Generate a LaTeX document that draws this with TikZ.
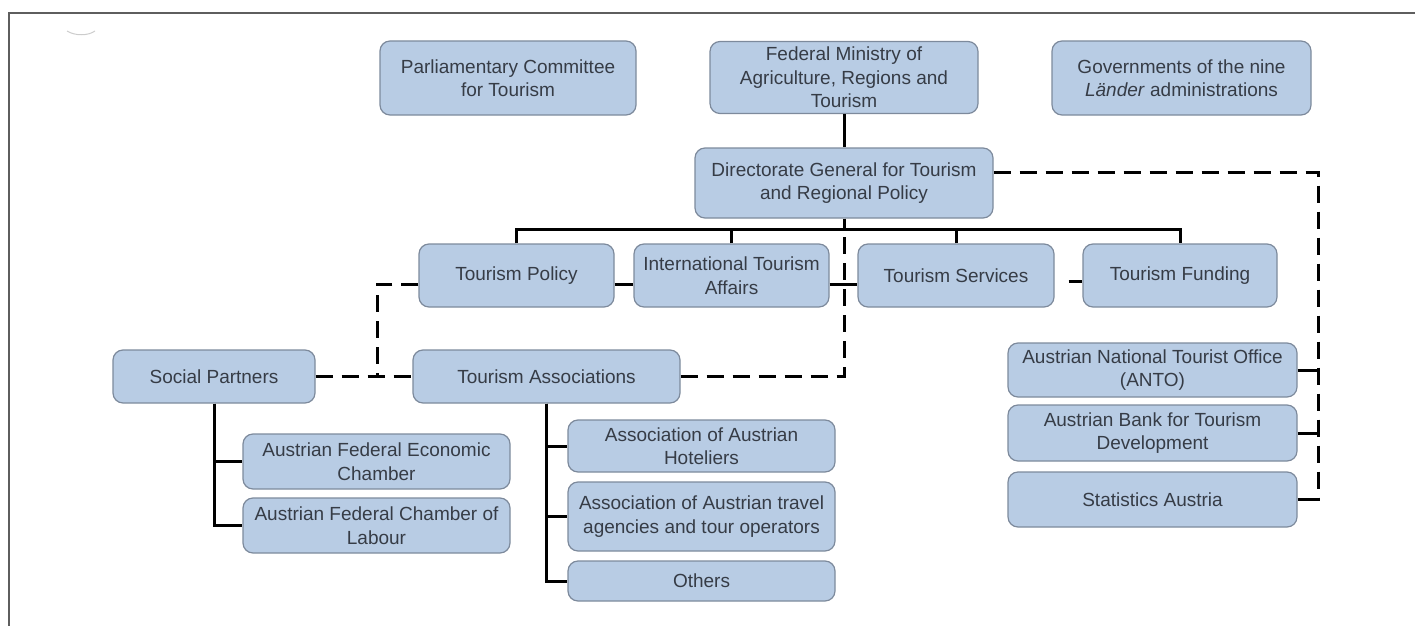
\documentclass[tikz,border=0pt]{standalone}
\usepackage{fontspec}
\setmainfont{Liberation Sans}
\definecolor{boxfill}{HTML}{B8CCE4}
\definecolor{boxline}{HTML}{7D8A9C}
\definecolor{boxtext}{HTML}{363C46}
\definecolor{framegray}{HTML}{5E5E5E}
\begin{document}
\begin{tikzpicture}[x=1pt, y=-1pt,
    box/.style={draw=boxline, line width=1.2pt, fill=boxfill, rounded corners=10pt,
        align=center, inner sep=0pt, text=boxtext,
        font=\fontsize{19}{23.5}\selectfont},
    link/.style={line width=3pt, black},
    dlink/.style={line width=3pt, black, dash pattern=on 17pt off 9pt}]
    \useasboundingbox (0,0) rectangle (1415,626);

    % Frame
    \draw[framegray, line width=2pt] (1415,13) -- (9,13) -- (9,626);
    \draw[gray!40, line width=1pt] (67,31) .. controls (75,36) and (88,36) .. (95,31);

    % Top row
    \node[box, minimum width=256, minimum height=74] (parl) at (508,78)
        {Parliamentary Committee\\for Tourism};
    \node[box, minimum width=268, minimum height=72] (ministry) at (844,77.5)
        {Federal Ministry of\\Agriculture, Regions and\\Tourism};
    \node[box, minimum width=259, minimum height=74] (lander) at (1181.5,78)
        {Governments of the nine\\\textit{Länder} administrations};

    % Directorate and departments
    \node[box, minimum width=298, minimum height=70] (directorate) at (844,183)
        {Directorate General for Tourism\\and Regional Policy};
    \node[box, minimum width=195, minimum height=63] (policy) at (516.5,275.5) {Tourism Policy};
    \node[box, minimum width=195, minimum height=63] (intl) at (731.5,275.5)
        {International Tourism\\Affairs};
    \node[box, minimum width=196, minimum height=63] (services) at (956,275.5) {Tourism Services};
    \node[box, minimum width=194, minimum height=63] (funding) at (1180,275.5) {Tourism Funding};

    % Partners and associations
    \node[box, minimum width=202, minimum height=53] (social) at (214,376.5) {Social Partners};
    \node[box, minimum width=267, minimum height=53] (assoc) at (546.5,376.5) {Tourism Associations};
    \node[box, minimum width=267, minimum height=55] (econ) at (376.5,461.5)
        {Austrian Federal Economic\\Chamber};
    \node[box, minimum width=267, minimum height=55] (labour) at (376.5,525.5)
        {Austrian Federal Chamber of\\Labour};
    \node[box, minimum width=267, minimum height=52] (hotel) at (701.5,446)
        {Association of Austrian\\Hoteliers};
    \node[box, minimum width=267, minimum height=69] (travel) at (701.5,516.5)
        {Association of Austrian travel\\agencies and tour operators};
    \node[box, minimum width=267, minimum height=40] (others) at (701.5,581) {Others};

    % Agencies
    \node[box, minimum width=289, minimum height=54] (anto) at (1152.5,370)
        {Austrian National Tourist Office\\(ANTO)};
    \node[box, minimum width=289, minimum height=56] (bank) at (1152.5,433)
        {Austrian Bank for Tourism\\Development};
    \node[box, minimum width=289, minimum height=55] (stats) at (1152.5,499.5) {Statistics Austria};

    % Hierarchy lines
    \draw[link] (ministry.south) -- (directorate.north);
    \draw[link] (directorate.south) -- ++(0,11) coordinate (bus);
    \draw[link] (policy.north) |- (bus) -| (funding.north);
    \draw[link] (intl.north) |- (bus);
    \draw[link] (services.north) |- (bus);
    \draw[link] ([yshift=-9pt]policy.east) -- ([yshift=-9pt]intl.west);
    \draw[link] ([yshift=-9pt]intl.east) -- ([yshift=-9pt]services.west);
    \draw[link, shorten <=14pt] ([yshift=-6pt]services.east) -- ([yshift=-6pt]funding.west);
    \draw[link] (social.south) |- (econ.west);
    \draw[link] (social.south) |- (labour.west);
    \draw[link] (assoc.south) |- (hotel.west);
    \draw[link] (assoc.south) |- (travel.west);
    \draw[link] (assoc.south) |- (others.west);

    % Dashed relations
    \coordinate (lj) at (377,376.5);
    \coordinate (rj) at (1318,501);
    \draw[dlink] (social.east) -- (assoc.west);
    \draw[dlink] ([yshift=-9pt]policy.west) -| (lj);
    \draw[dlink] (assoc.east) -| (directorate.south);
    \draw[dlink] ([yshift=11pt]directorate.east) -| (rj);
    \draw[link] (anto.east) -- (anto.east -| rj);
    \draw[link] (bank.east) -- (bank.east -| rj);
    \draw[link] (stats.east) -- (stats.east -| rj);
\end{tikzpicture}
\end{document}
